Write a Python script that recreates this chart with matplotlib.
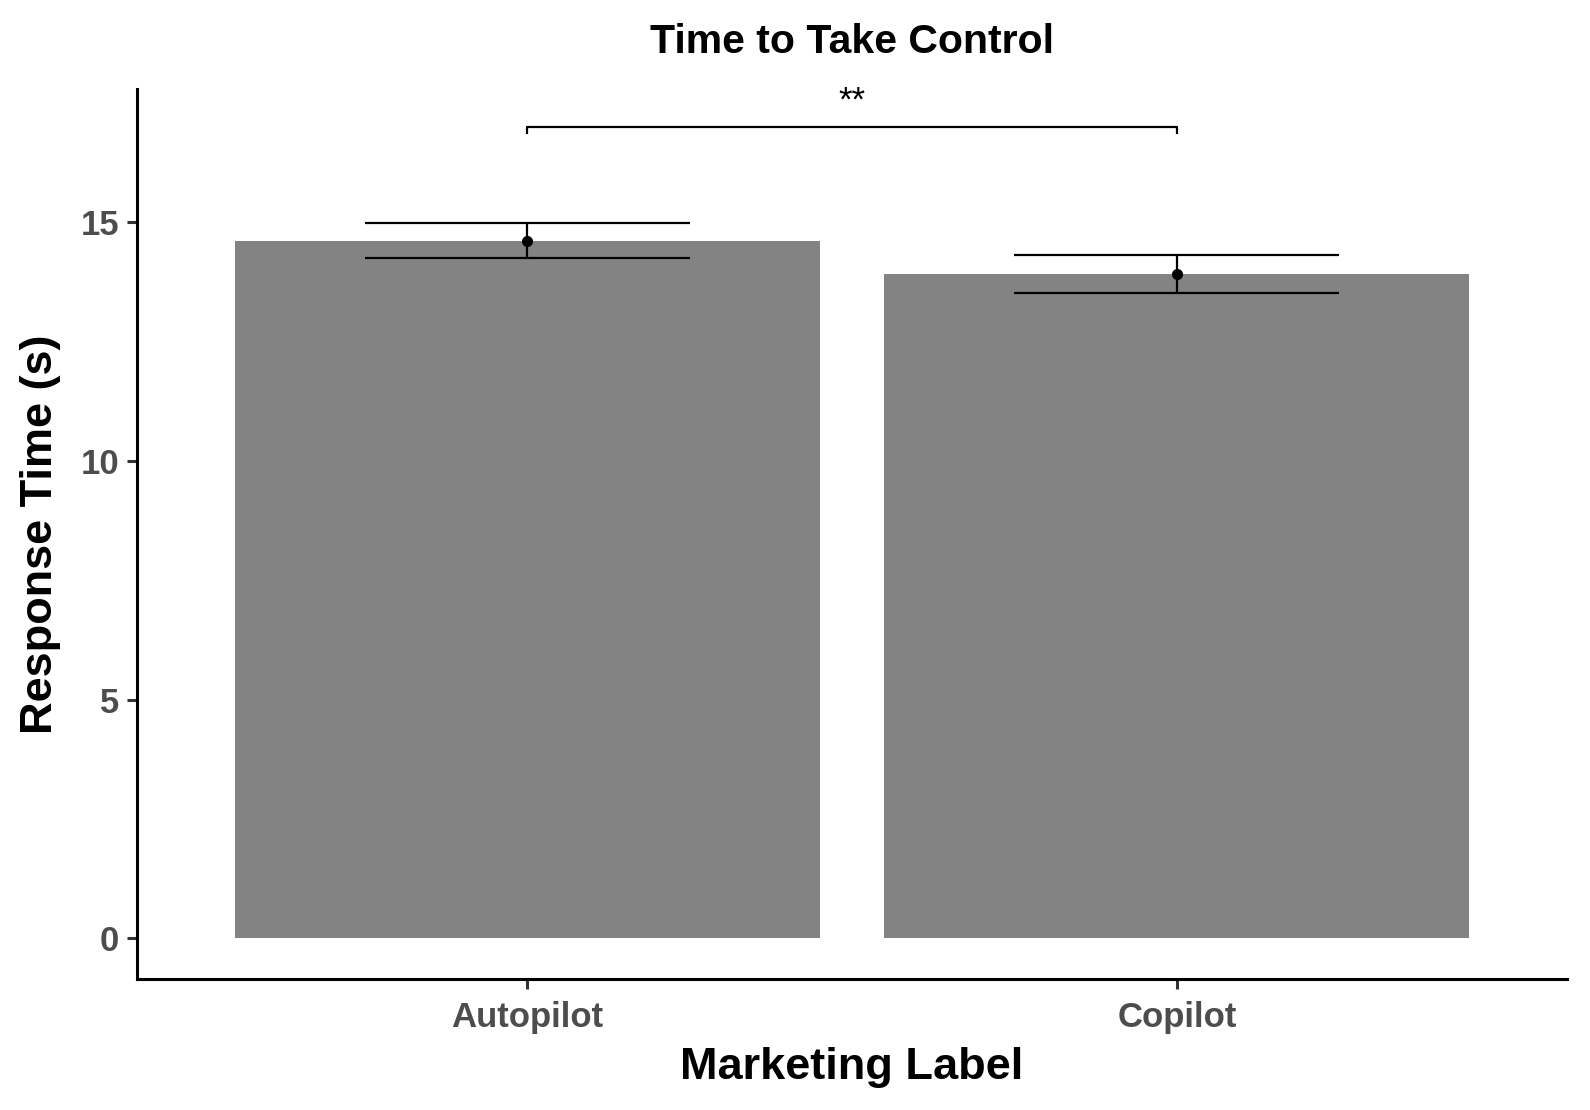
import matplotlib.pyplot as plt

plt.rcParams['font.family'] = ['Liberation Sans', 'DejaVu Sans']

# Values
labels = ["Autopilot", "Copilot"]
means = [14.62, 13.92]
ses = [0.37, 0.40]
sig_text = "**"
sig_height = 17.0
sig_drop = 0.13

fig = plt.figure(figsize=(15.9, 11.1), dpi=100)
ax = fig.add_axes([0.0862, 0.118, 0.8993, 0.802])

xs = [1, 2]
ax.bar(xs, means, width=0.9, color="#838383", zorder=1)
ax.errorbar(xs, means, yerr=ses, fmt="o", color="black", ms=7,
            elinewidth=1.6, capsize=0, zorder=3)
# wide caps like ggplot geom_errorbar(width=0.5)
for x, m, s in zip(xs, means, ses):
    ax.hlines([m - s, m + s], x - 0.25, x + 0.25, color="black", lw=1.6, zorder=3)

# significance bracket
ax.plot([xs[0], xs[0], xs[1], xs[1]],
        [sig_height - sig_drop, sig_height, sig_height, sig_height - sig_drop],
        color="black", lw=1.6)
ax.text((xs[0] + xs[1]) / 2, sig_height + 0.2, sig_text, ha="center", va="bottom",
        fontsize=25)

ax.set_xlim(0.4, 2.6)
ax.set_ylim(-0.85, 17.8)
ax.set_xticks(xs)
ax.set_xticklabels(labels)
ax.set_yticks([0, 5, 10, 15])

for side in ["top", "right"]:
    ax.spines[side].set_visible(False)
for side in ["left", "bottom"]:
    ax.spines[side].set_linewidth(2.2)
ax.tick_params(axis="both", length=7, width=2.2, color="#333333",
               labelsize=25, labelcolor="#4D4D4D", pad=6)
ax.tick_params(axis="x", pad=9)
for lbl in ax.get_xticklabels() + ax.get_yticklabels():
    lbl.set_fontweight("bold")

ax.set_xlabel("Marketing Label", fontsize=32.5, fontweight="bold", labelpad=9)
ax.set_ylabel("Response Time (s)", fontsize=32.5, fontweight="bold", labelpad=14)
ax.set_title("Time to Take Control", fontsize=29.5, fontweight="bold", pad=26)

fig.savefig("out.png", dpi=100)
